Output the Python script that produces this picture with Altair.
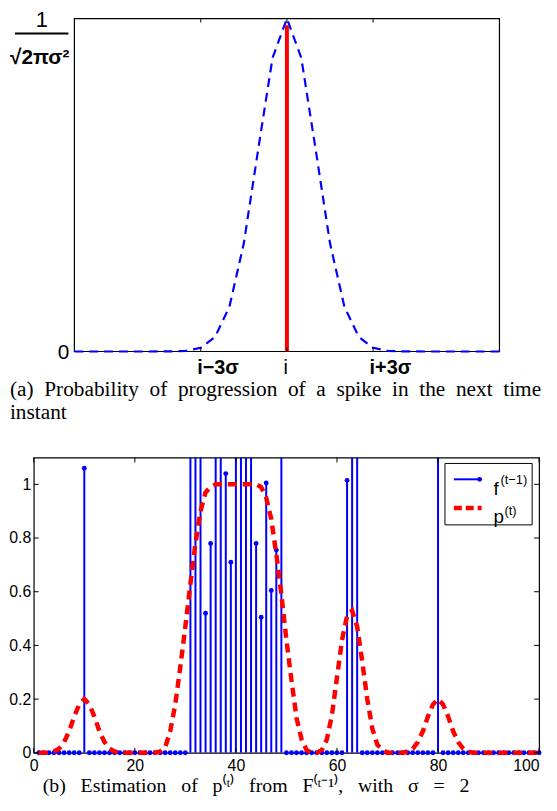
import altair as alt
import pandas as pd

# ---------------- panel (a) data ----------------
a_x = [-7.4, -6.0, -5.0, -4.0, -3.5, -3.0, -2.5, -2.0, -1.5, -1.0, -0.5, 0.0,
       0.5, 1.0, 1.5, 2.0, 2.5, 3.0, 3.5, 4.0, 5.0, 6.0, 7.4]
a_gauss = [0, 0, 0, 0.0003, 0.002, 0.011, 0.044, 0.135, 0.325, 0.607, 0.882, 1.0,
           0.882, 0.607, 0.325, 0.135, 0.044, 0.011, 0.002, 0.0003, 0, 0, 0]
a_range = [-7.4, 7.4]
a_spike_x = [0]
a_spike_top = [0.98]
a_tick_vals = [-3, 0, 3]
a_tick_text = ["i−3σ", "i", "i+3σ"]
a_caption = ["(a) Probability of progression of a spike in the next time", "instant"]

# ---------------- panel (b) data ----------------
b_x = list(range(1, 101))
f_pos = [10, 31, 32, 33, 34, 35, 36, 37, 38, 39, 40, 41, 42, 43, 44, 45, 46, 47, 48, 49,
         62, 63, 64, 80]
f_val = [1.06, 1.4, 1.4, 1.4, 0.52, 0.78, 1.4, 1.4, 1.04, 0.71, 1.4, 1.4, 1.4, 1.4,
         0.78, 0.505, 1.005, 0.605, 0.755, 1.4, 1.015, 1.4, 1.4, 1.4]
p_val = [0, 0, 0, 0.005, 0.015, 0.04, 0.08, 0.135, 0.18, 0.2,
         0.18, 0.135, 0.08, 0.04, 0.015, 0.005, 0, 0, 0, 0,
         0, 0, 0, 0, 0.005, 0.02, 0.08, 0.18, 0.32, 0.47,
         0.63, 0.78, 0.9, 0.97, 0.99, 1.0, 1.0, 1.0, 1.0, 1.0,
         1.0, 1.0, 1.0, 1.0, 0.99, 0.95, 0.87, 0.74, 0.59, 0.42,
         0.27, 0.13, 0.05, 0.01, 0, 0, 0.01, 0.05, 0.14, 0.28,
         0.42, 0.51, 0.53, 0.47, 0.34, 0.2, 0.09, 0.03, 0.01, 0,
         0, 0, 0, 0.005, 0.015, 0.04, 0.08, 0.135, 0.18, 0.2,
         0.18, 0.135, 0.08, 0.04, 0.015, 0.005, 0, 0, 0, 0,
         0, 0, 0, 0, 0, 0, 0, 0, 0, 0]
b_xticks = [0, 20, 40, 60, 80, 100]
b_yticks = [0, 0.2, 0.4, 0.6, 0.8, 1.0]
legend_base = ["f", "p"]
legend_sup = ["(t−1)", "(t)"]
b_caption = "(b) Estimation of p⁽ᵗ⁾ from F⁽ᵗ⁻¹⁾, with σ = 2"

BLUE = "#0000ff"
RED = "#ff0000"
SANS = "Liberation Sans"
SERIF = "Liberation Serif"
NB = "\u00a0"

# ================= panel (a) =================
LA = 41            # extra room on the left inside the top view (labels)
WA, HA = 429, 336  # visible box size
px_per_unit = WA / (a_range[1] - a_range[0])
xs_a = alt.Scale(domain=[a_range[0] - LA / px_per_unit, a_range[1]], nice=False, zero=False)
ys_a = alt.Scale(domain=[0, 1], nice=False)

df_a = pd.DataFrame({"x": a_x, "y": a_gauss})
df_spike = pd.DataFrame({"x": a_spike_x, "y": a_spike_top})
df_at = pd.DataFrame({"x": a_tick_vals})
one_row = pd.DataFrame({"a": [0]})

label_expr = " : ".join(
    f"datum.value == {v} ? '{t}'" for v, t in zip(a_tick_vals[:-1], a_tick_text[:-1])
) + f" : '{a_tick_text[-1]}'"

box_a = alt.Chart(one_row).mark_rect(fill="white", fillOpacity=0, stroke="black", strokeWidth=1.2).encode(
    x=alt.value(LA), x2=alt.value(LA + WA), y=alt.value(0), y2=alt.value(HA))
gauss = alt.Chart(df_a).mark_line(color=BLUE, strokeWidth=2.2, strokeDash=[9, 6]).encode(
    x=alt.X("x:Q", scale=xs_a, axis=alt.Axis(
        values=a_tick_vals, labelExpr=label_expr, title=None,
        labelFontSize=20, labelFont=SANS,
        labelFontWeight={"condition": {"test": "datum.value == 0", "value": "normal"}, "value": "bold"},
        labelAlign="left", labelOffset=-4, labelPadding=6)),
    y=alt.Y("y:Q", scale=ys_a, axis=None),
)
spike = alt.Chart(df_spike).mark_rule(color=RED, strokeWidth=4).encode(
    x=alt.X("x:Q", scale=xs_a), y=alt.Y("y:Q", scale=ys_a), y2=alt.datum(0)
)
a_top_ticks = alt.Chart(df_at).mark_rule(color="black", strokeWidth=1).encode(
    x=alt.X("x:Q", scale=xs_a), y=alt.value(0), y2=alt.value(4)
)
a_bot_ticks = alt.Chart(df_at).mark_rule(color="black", strokeWidth=1).encode(
    x=alt.X("x:Q", scale=xs_a), y=alt.value(HA), y2=alt.value(HA - 4)
)
zero_lab = alt.Chart(pd.DataFrame({"t": ["0"]})).mark_text(
    font=SANS, fontSize=21, align="right", baseline="middle", color="black"
).encode(text="t:N", x=alt.value(LA - 5), y=alt.value(HA + 2))
one = alt.Chart(pd.DataFrame({"t": ["1"]})).mark_text(
    font=SANS, fontSize=22, align="center", baseline="alphabetic", color="black"
).encode(text="t:N", x=alt.value(LA - 33), y=alt.value(9))
bar = alt.Chart(one_row).mark_rule(color="black", strokeWidth=2).encode(
    x=alt.value(LA - 60), x2=alt.value(LA - 6), y=alt.value(15)
)
sqrt = alt.Chart(pd.DataFrame({"t": ["√2πσ²"]})).mark_text(
    font=SANS, fontSize=21, fontWeight="bold", align="center", baseline="alphabetic", color="black"
).encode(text="t:N", x=alt.value(LA - 35), y=alt.value(46))

cap_a = [line.replace(" ", " " + NB) for line in a_caption]
top = alt.layer(box_a, gauss, spike, a_top_ticks, a_bot_ticks, zero_lab, one, bar, sqrt).properties(
    width=LA + WA, height=HA,
    view=alt.ViewBackground(stroke=None),
    title=alt.TitleParams(text=cap_a, orient="bottom", anchor="start", frame="bounds",
                          font=SERIF, fontSize=21.5, fontWeight="normal", lineHeight=23,
                          offset=2, color="black"),
)

# ================= panel (b) =================
WB, HB = 510, 298
xs_b = alt.Scale(domain=[0, 100], nice=False)
ys_b = alt.Scale(domain=[0, 1.1], nice=False)

f_full = [0.0] * len(b_x)
for pos, val in zip(f_pos, f_val):
    f_full[pos - 1] = val
df_b = pd.DataFrame({"x": b_x, "f": f_full, "p": p_val})

stems = alt.Chart(df_b).transform_filter("datum.f != 0").mark_rule(
    color=BLUE, strokeWidth=2, clip=True
).encode(
    x=alt.X("x:Q", scale=xs_b, axis=alt.Axis(
        values=b_xticks, title=None, labelFontSize=16, labelFont=SANS, labelPadding=5,
        labelAlign={"condition": {"test": "datum.value == 100", "value": "right"}, "value": "center"})),
    y=alt.Y("f:Q", scale=ys_b, axis=alt.Axis(values=b_yticks, title=None, labelFontSize=16,
                                               labelFont=SANS, labelPadding=3, format="~g")),
    y2=alt.datum(0),
)
dots = alt.Chart(df_b).transform_filter("datum.f <= 1.1").mark_point(
    filled=True, size=24, color=BLUE, opacity=1
).encode(x=alt.X("x:Q", scale=xs_b), y=alt.Y("f:Q", scale=ys_b))
pline = alt.Chart(df_b).mark_line(color=RED, strokeWidth=4.5, strokeDash=[9, 6]).encode(
    x=alt.X("x:Q", scale=xs_b), y=alt.Y("p:Q", scale=ys_b)
)
df_bx = pd.DataFrame({"x": b_xticks})
df_by = pd.DataFrame({"y": b_yticks})
bt1 = alt.Chart(df_bx).mark_rule(color="black").encode(
    x=alt.X("x:Q", scale=xs_b), y=alt.value(0), y2=alt.value(5))
bt2 = alt.Chart(df_bx).mark_rule(color="black").encode(
    x=alt.X("x:Q", scale=xs_b), y=alt.value(HB), y2=alt.value(HB - 5))
bt3 = alt.Chart(df_by).mark_rule(color="black").encode(
    y=alt.Y("y:Q", scale=ys_b), x=alt.value(0), x2=alt.value(5))
bt4 = alt.Chart(df_by).mark_rule(color="black").encode(
    y=alt.Y("y:Q", scale=ys_b), x=alt.value(WB), x2=alt.value(WB - 5))

leg_box = alt.Chart(one_row).mark_rect(fill="white", stroke="black", strokeWidth=1).encode(
    x=alt.value(415), x2=alt.value(503), y=alt.value(6), y2=alt.value(68))
leg_l1 = alt.Chart(one_row).mark_rule(color=BLUE, strokeWidth=2).encode(
    x=alt.value(424), x2=alt.value(450), y=alt.value(22))
leg_d1 = alt.Chart(one_row).mark_point(filled=True, size=24, color=BLUE, opacity=1).encode(
    x=alt.value(450), y=alt.value(22))
leg_l2 = alt.Chart(one_row).mark_rule(color=RED, strokeWidth=4.5, strokeDash=[8, 4]).encode(
    x=alt.value(424), x2=alt.value(452), y=alt.value(51))
leg_b1 = alt.Chart(pd.DataFrame({"t": [legend_base[0]]})).mark_text(
    font=SANS, fontSize=19, align="left", color="black").encode(
    text="t:N", x=alt.value(464), y=alt.value(32))
leg_s1 = alt.Chart(pd.DataFrame({"t": [legend_sup[0]]})).mark_text(
    font=SANS, fontSize=13, align="left", color="black").encode(
    text="t:N", x=alt.value(471), y=alt.value(23))
leg_b2 = alt.Chart(pd.DataFrame({"t": [legend_base[1]]})).mark_text(
    font=SANS, fontSize=19, align="left", color="black").encode(
    text="t:N", x=alt.value(464), y=alt.value(60))
leg_s2 = alt.Chart(pd.DataFrame({"t": [legend_sup[1]]})).mark_text(
    font=SANS, fontSize=13, align="left", color="black").encode(
    text="t:N", x=alt.value(475), y=alt.value(54))

bottom = alt.layer(stems, dots, pline, bt1, bt2, bt3, bt4,
                   leg_box, leg_l1, leg_d1, leg_l2, leg_b1, leg_s1, leg_b2, leg_s2).properties(
    width=WB, height=HB,
    title=alt.TitleParams(text=b_caption.replace(" ", " " + NB + NB), orient="bottom",
                          anchor="start", frame="group", dx=9, font=SERIF, fontSize=20,
                          fontWeight="normal", offset=3, color="black"),
)

chart = alt.vconcat(top, bottom, spacing=32,
                    padding={"left": 0, "right": 0, "top": -2, "bottom": 0}).configure_view(
    stroke="black", strokeWidth=1.2
).configure_axis(
    domain=False, ticks=False, grid=False, labelColor="black"
).properties(background="white")

chart.save("out.html", embed_options={"renderer": "svg", "actions": False})
